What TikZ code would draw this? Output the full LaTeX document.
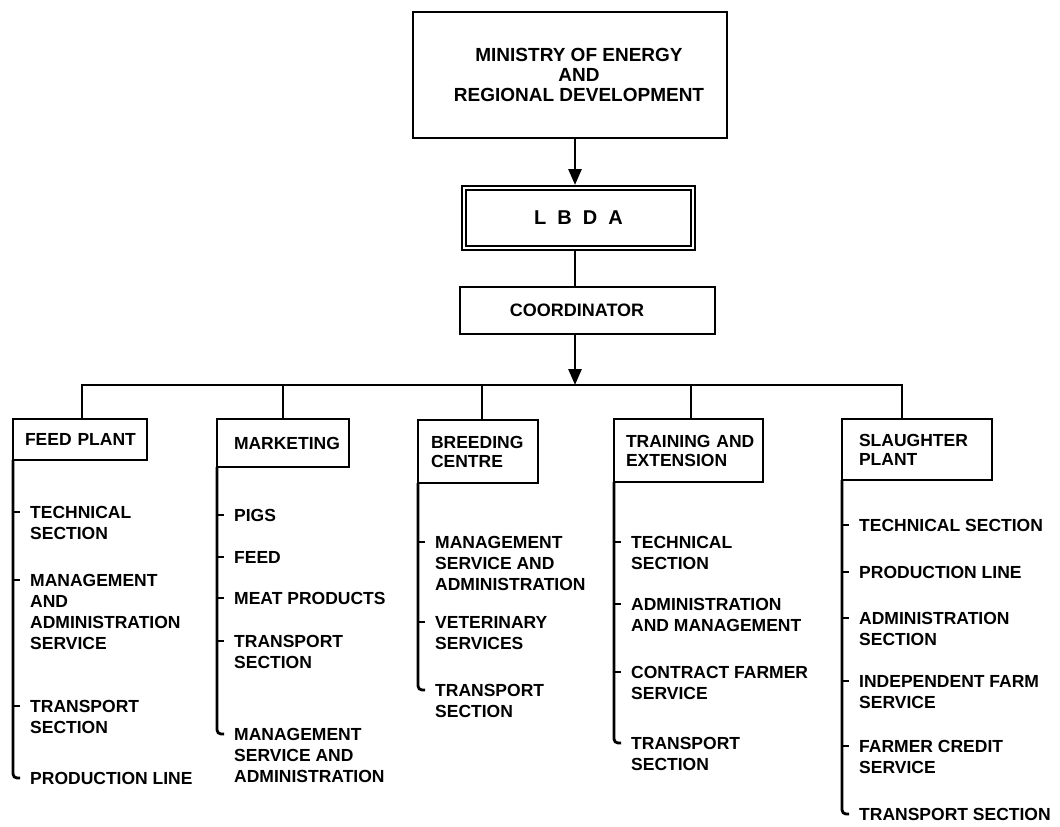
\documentclass[tikz,border=0pt]{standalone}
\usepackage{fontspec}
\setmainfont{Liberation Sans}
\usetikzlibrary{arrows.meta,calc}
\begin{document}
\begin{tikzpicture}[x=1pt,y=-1pt,
  topbox/.style={draw, line width=2pt, outer sep=0pt, align=center},
  unit/.style={draw, line width=2pt, outer sep=0pt, anchor=north west, inner ysep=0pt,
    align=left, font=\fontsize{17.5}{19}\selectfont\bfseries},
  item/.style={anchor=north west, inner sep=0pt, align=left, font=\fontsize{17.5}{21}\selectfont\bfseries},
  trunk/.style={line width=2.8pt, rounded corners=4pt},
  tick/.style={line width=1.6pt},
  conn/.style={line width=2.2pt},
  arr/.style={line width=2.8pt, -{Triangle[length=16pt,width=13pt]}}]
\useasboundingbox (0,0) rectangle (1060,827);

% top of the chart
\node[topbox, minimum width=314pt, minimum height=126pt, font=\fontsize{19}{20}\selectfont\bfseries]
  (min) at (570,75) {\hspace*{18pt}MINISTRY OF ENERGY\\\hspace*{18pt}AND\\\hspace*{18pt}REGIONAL DEVELOPMENT};
\node[draw, double, double distance=2.5pt, line width=1.5pt, outer sep=3pt,
  minimum width=229pt, minimum height=60pt, font=\fontsize{20}{20}\selectfont\bfseries]
  (lbda) at (578.5,218) {L\hspace{11pt}B\hspace{11pt}D\hspace{11pt}A};
\node[topbox, minimum width=255pt, minimum height=47pt, font=\fontsize{18}{19}\selectfont\bfseries]
  (coord) at (587,310) {\hspace*{-20pt}COORDINATOR};
\coordinate (bus) at (575,385);

\draw[arr] (bus |- min.south) -- (bus |- lbda.north);
\draw[conn] (bus |- lbda.south) -- (bus |- coord.north);
\draw[arr] (bus |- coord.south) -- (bus);

% units
\node[unit, minimum width=134pt, minimum height=41pt, inner xsep=12pt, text width=110pt]
  (feed) at (13,419) {FEED~PLANT};
\node[unit, minimum width=132pt, minimum height=48pt, inner xsep=17pt, text width=98pt]
  (mkt) at (217,419) {MARKETING};
\node[unit, minimum width=120pt, minimum height=63pt, inner xsep=13pt, text width=94pt]
  (breed) at (418,420) {BREEDING\\CENTRE};
\node[unit, minimum width=149pt, minimum height=63pt, inner xsep=12pt, text width=125pt]
  (train) at (614,419) {TRAINING~AND\\EXTENSION};
\node[unit, minimum width=150pt, minimum height=61pt, inner xsep=17pt, text width=116pt]
  (slau) at (842,419) {SLAUGHTER\\PLANT};

\coordinate (feedT) at ([xshift=69pt]feed.north west);
\coordinate (mktT) at ([xshift=66pt]mkt.north west);
\coordinate (breedT) at ([xshift=64pt]breed.north west);
\coordinate (trainT) at ([xshift=77pt]train.north west);
\coordinate (slauT) at ([xshift=60pt]slau.north west);
\draw[conn] (feedT) |- (bus) -| (slauT);
\draw[conn] (mktT) -- (mktT |- bus);
\draw[conn] (breedT) -- (breedT |- bus);
\draw[conn] (trainT) -- (trainT |- bus);

% feed plant items
\node[item] (f1) at (30,506) {TECHNICAL\\SECTION};
\node[item] (f2) at (30,574) {MANAGEMENT\\AND\\ADMINISTRATION\\SERVICE};
\node[item] (f3) at (30,700) {TRANSPORT\\SECTION};
\node[item] (f4) at (30,772) {PRODUCTION LINE};
\foreach \n in {f1,f2,f3} \draw[tick] ($(\n.north west)+(-17,6)$) -- ++(7,0);
\draw[trunk] (feed.south west) |- ($(f4.north west)+(-10,6)$);

% marketing items
\node[item] (m1) at (234,509) {PIGS};
\node[item] (m2) at (234,551) {FEED};
\node[item] (m3) at (234,592) {MEAT PRODUCTS};
\node[item] (m4) at (234,635) {TRANSPORT\\SECTION};
\node[item] (m5) at (234,728) {MANAGEMENT\\SERVICE AND\\ADMINISTRATION};
\foreach \n in {m1,m2,m3,m4} \draw[tick] ($(\n.north west)+(-17,6)$) -- ++(7,0);
\draw[trunk] (mkt.south west) |- ($(m5.north west)+(-10,6)$);

% breeding centre items
\node[item] (b1) at (435,536) {MANAGEMENT\\SERVICE AND\\ADMINISTRATION};
\node[item] (b2) at (435,616) {VETERINARY\\SERVICES};
\node[item] (b3) at (435,684) {TRANSPORT\\SECTION};
\foreach \n in {b1,b2} \draw[tick] ($(\n.north west)+(-17,6)$) -- ++(7,0);
\draw[trunk] (breed.south west) |- ($(b3.north west)+(-10,6)$);

% training and extension items
\node[item] (t1) at (631,536) {TECHNICAL\\SECTION};
\node[item] (t2) at (631,598) {ADMINISTRATION\\AND MANAGEMENT};
\node[item] (t3) at (631,666) {CONTRACT FARMER\\SERVICE};
\node[item] (t4) at (631,737) {TRANSPORT\\SECTION};
\foreach \n in {t1,t2,t3} \draw[tick] ($(\n.north west)+(-17,6)$) -- ++(7,0);
\draw[trunk] (train.south west) |- ($(t4.north west)+(-10,6)$);

% slaughter plant items
\node[item] (s1) at (859,519) {TECHNICAL SECTION};
\node[item] (s2) at (859,566) {PRODUCTION LINE};
\node[item] (s3) at (859,612) {ADMINISTRATION\\SECTION};
\node[item] (s4) at (859,675) {INDEPENDENT FARM\\SERVICE};
\node[item] (s5) at (859,740) {FARMER CREDIT\\SERVICE};
\node[item] (s6) at (859,808) {TRANSPORT SECTION};
\foreach \n in {s1,s2,s3,s4,s5} \draw[tick] ($(\n.north west)+(-17,6)$) -- ++(7,0);
\draw[trunk] (slau.south west) |- ($(s6.north west)+(-10,6)$);
\end{tikzpicture}
\end{document}
